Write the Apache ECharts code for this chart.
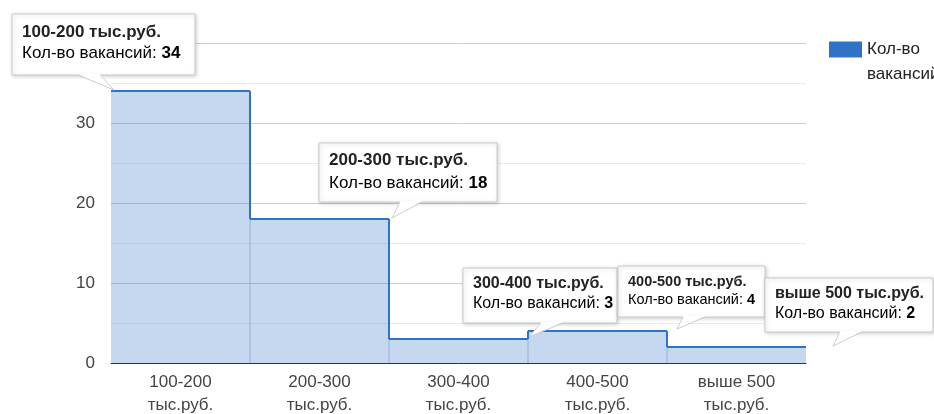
<!DOCTYPE html>
<html>
<head>
<meta charset="utf-8">
<script src="https://cdn.jsdelivr.net/npm/echarts@6/dist/echarts.min.js"></script>
<style>
html, body { margin: 0; padding: 0; background: #fff; }
#chart { width: 934px; height: 414px; }
</style>
</head>
<body>
<div id="chart"></div>
<script>
var categories = ['100-200 тыс.руб.', '200-300 тыс.руб.', '300-400 тыс.руб.', '400-500 тыс.руб.', 'выше 500 тыс.руб.'];
var vacancies = [34, 18, 3, 4, 2];
var yTicks = [0, 10, 20, 30, 40];
var seriesName = 'Кол-во вакансий';

var lineColor = '#3072c4';
var font = 'Arial, "Liberation Sans", sans-serif';

// callout boxes: edge of the step (0 left, 1 right), offsets from that point,
// text line centres inside the box, font size
var tipLayout = [
    {edge: 0, tip: [3, -1], box: [-99, -77, 183, 61], base: -33, rows: [18, 39], size: 17},
    {edge: 1, tip: [3, -1], box: [-70, -76, 178, 59], base: 11, rows: [17, 40], size: 17},
    {edge: 1, tip: [1, -2], box: [-65, -71, 154, 55], base: 13, rows: [16, 36], size: 16},
    {edge: 1, tip: [10, -2], box: [-49, -65, 147, 51], base: 16, rows: [16, 34], size: 14.5},
    {edge: 1, tip: [27, -1], box: [-41, -69, 168, 54], base: 34, rows: [16, 36], size: 16}
];

function renderStep(params, api) {
    var i = api.value(0);
    var v = api.value(1);
    var top = api.coord([i, v]);
    var bottom = api.coord([i, 0]);
    var w = api.size([1, 0])[0];
    var x0 = top[0] - w / 2, x1 = top[0] + w / 2;
    var children = [{
        type: 'rect',
        shape: {x: x0, y: top[1], width: w, height: bottom[1] - top[1]},
        style: {fill: lineColor, opacity: 0.28}
    }];
    if (i > 0) {
        var prev = api.coord([i, vacancies[i - 1]]);
        children.push({
            type: 'line',
            shape: {x1: x0, y1: bottom[1], x2: x0, y2: Math.max(top[1], prev[1])},
            style: {stroke: '#8fb0d9', lineWidth: 1}
        });
        children.push({
            type: 'line',
            shape: {x1: x0, y1: prev[1], x2: x0, y2: top[1]},
            style: {stroke: lineColor, lineWidth: 2}
        });
    }
    children.push({
        type: 'line',
        shape: {x1: x0, y1: top[1], x2: x1, y2: top[1]},
        style: {stroke: lineColor, lineWidth: 2}
    });
    return {type: 'group', children: children};
}

function renderTip(params, api) {
    var i = api.value(0);
    var L = tipLayout[i];
    var p = api.coord([i, api.value(1)]);
    var w = api.size([1, 0])[0];
    var ax = p[0] + (L.edge ? w / 2 : -w / 2), ay = p[1];
    var tx = ax + L.tip[0], ty = ay + L.tip[1];
    var bx = ax + L.box[0], by = ay + L.box[1], bw = L.box[2], bh = L.box[3];
    var b0 = ax + L.base, b1 = b0 + 22, yb = by + bh;
    return {
        type: 'group',
        children: [
            {
                type: 'rect',
                shape: {x: bx, y: by, width: bw, height: bh},
                style: {fill: '#fff', stroke: '#cccccc', lineWidth: 1, shadowBlur: 4,
                    shadowOffsetX: 1, shadowOffsetY: 1, shadowColor: 'rgba(0,0,0,0.2)'}
            },
            {
                type: 'polygon',
                shape: {points: [[b0, yb - 1], [b1, yb - 1], [tx, ty]]},
                style: {fill: '#fff'}
            },
            {
                type: 'polyline',
                shape: {points: [[b0, yb], [tx, ty], [b1, yb]]},
                style: {stroke: '#cccccc', fill: null, lineWidth: 1}
            },
            {
                type: 'text',
                style: {
                    x: bx + 10, y: by + L.rows[0], text: categories[i],
                    font: 'bold ' + L.size + 'px ' + font, fill: '#222',
                    verticalAlign: 'middle'
                }
            },
            {
                type: 'text',
                style: {
                    x: bx + 10, y: by + L.rows[1],
                    text: '{k|Кол-во вакансий: }{v|' + vacancies[i] + '}',
                    verticalAlign: 'middle',
                    rich: {
                        k: {fontFamily: font, fontSize: L.size, color: '#333'},
                        v: {fontFamily: font, fontSize: L.size, fontWeight: 'bold', color: '#222'}
                    }
                }
            }
        ]
    };
}

var chart = echarts.init(document.getElementById('chart'));
var stepData = vacancies.map(function (v, i) { return [i, v]; });

var option = {
    animation: false,
    color: [lineColor],
    textStyle: {fontFamily: font},
    grid: {left: 111, right: 128, top: 43, bottom: 51, containLabel: false, outerBoundsMode: 'none'},
    legend: {
        data: [{name: seriesName, icon: 'rect', itemStyle: {color: lineColor}}],
        left: 824,
        top: 7,
        itemWidth: 33,
        itemHeight: 16,
        // empty first line keeps "Кол-во" level with the swatch
        formatter: function (n) { return ' \n' + n.replace(' ', '\n'); },
        textStyle: {fontSize: 17, color: '#222', lineHeight: 25}
    },
    xAxis: {
        type: 'category',
        data: categories,
        boundaryGap: true,
        axisTick: {show: false},
        axisLine: {lineStyle: {color: '#333', width: 1}},
        axisLabel: {
            interval: 0,
            fontSize: 17,
            color: '#444',
            lineHeight: 23,
            margin: 8,
            formatter: function (v) { return v.replace(/ (?=\S+$)/, '\n'); }
        }
    },
    yAxis: {
        type: 'value',
        min: yTicks[0],
        max: yTicks[yTicks.length - 1],
        interval: yTicks[1] - yTicks[0],
        axisLine: {show: false},
        axisTick: {show: false},
        axisLabel: {fontSize: 17, color: '#444', margin: 16},
        splitLine: {lineStyle: {color: '#cccccc'}},
        minorTick: {show: false, splitNumber: 2},
        minorSplitLine: {show: true, lineStyle: {color: '#ebebeb'}}
    },
    series: [
        {
            name: seriesName,
            type: 'custom',
            renderItem: renderStep,
            encode: {x: 0, y: 1},
            data: stepData,
            z: 2
        },
        {
            name: 'callouts',
            type: 'custom',
            renderItem: renderTip,
            encode: {x: 0, y: 1},
            data: stepData,
            clip: false,
            z: 10
        }
    ]
};
chart.setOption(option);
</script>
</body>
</html>
